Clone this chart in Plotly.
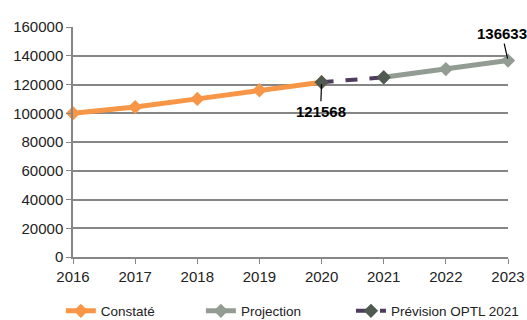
import plotly.graph_objects as go

years_constate = [2016, 2017, 2018, 2019, 2020]
vals_constate = [100000, 104300, 110000, 116000, 121568]

years_prevision = [2020, 2021]
vals_prevision = [121568, 125000]

years_projection = [2021, 2022, 2023]
vals_projection = [125000, 130700, 136633]

font = "Liberation Sans, Arial, sans-serif"

fig = go.Figure()
fig.add_trace(go.Scatter(
    x=years_constate, y=vals_constate, name="Constaté", mode="lines+markers",
    line=dict(color="#F79646", width=5),
    marker=dict(symbol="diamond", size=11, color="#F79646"),
    cliponaxis=False, legend="legend"
))
fig.add_trace(go.Scatter(
    x=years_projection, y=vals_projection, name="Projection", mode="lines+markers",
    line=dict(color="#939C92", width=5),
    marker=dict(symbol="diamond", size=11, color="#939C92"),
    cliponaxis=False, legend="legend2"
))
fig.add_trace(go.Scatter(
    x=years_prevision, y=vals_prevision, name="Prévision OPTL 2021", mode="lines+markers",
    line=dict(color="#4E3B5E", width=4, dash="dash"),
    marker=dict(symbol="diamond", size=11, color="#4F5A51"),
    cliponaxis=False, legend="legend3"
))

# data labels with short leader lines
fig.add_annotation(x=2020, y=vals_constate[-1], text="<b>121568</b>", showarrow=True,
                   arrowhead=0, arrowwidth=1.2, arrowcolor="black", ax=-1, ay=29, standoff=2,
                   font=dict(family=font, size=15, color="black"))
fig.add_annotation(x=2023, y=vals_projection[-1], text="<b>136633</b>", showarrow=True,
                   arrowhead=0, arrowwidth=1.2, arrowcolor="black", ax=-6, ay=-27, standoff=2,
                   font=dict(family=font, size=15, color="black"))

leg = dict(orientation="h", yanchor="middle", y=-0.235, xanchor="left",
           itemwidth=30, font=dict(size=13.5), bgcolor="rgba(0,0,0,0)")

fig.update_layout(
    width=527, height=320,
    margin=dict(l=73, r=19, t=27, b=63, autoexpand=False),
    plot_bgcolor="white", paper_bgcolor="white",
    font=dict(family=font, size=15, color="#222"),
    showlegend=True,
    legend=dict(leg, x=-0.028),
    legend2=dict(leg, x=0.294),
    legend3=dict(leg, x=0.639),
    xaxis=dict(range=[2016, 2023], dtick=1, showgrid=False, showline=True,
               linecolor="#868686", linewidth=1.5, ticks="outside", ticklen=5,
               tickcolor="#868686", zeroline=False, automargin=False),
    yaxis=dict(range=[0, 160000], dtick=20000, tickformat="d", showgrid=True,
               gridcolor="#868686", gridwidth=1.5, showline=True, linecolor="#868686",
               linewidth=1.5, ticks="outside", ticklen=5, tickcolor="#868686",
               zeroline=False, automargin=False),
)

fig.write_html("out.html", config={"displayModeBar": False},
               post_script="document.body.style.margin='0';")
